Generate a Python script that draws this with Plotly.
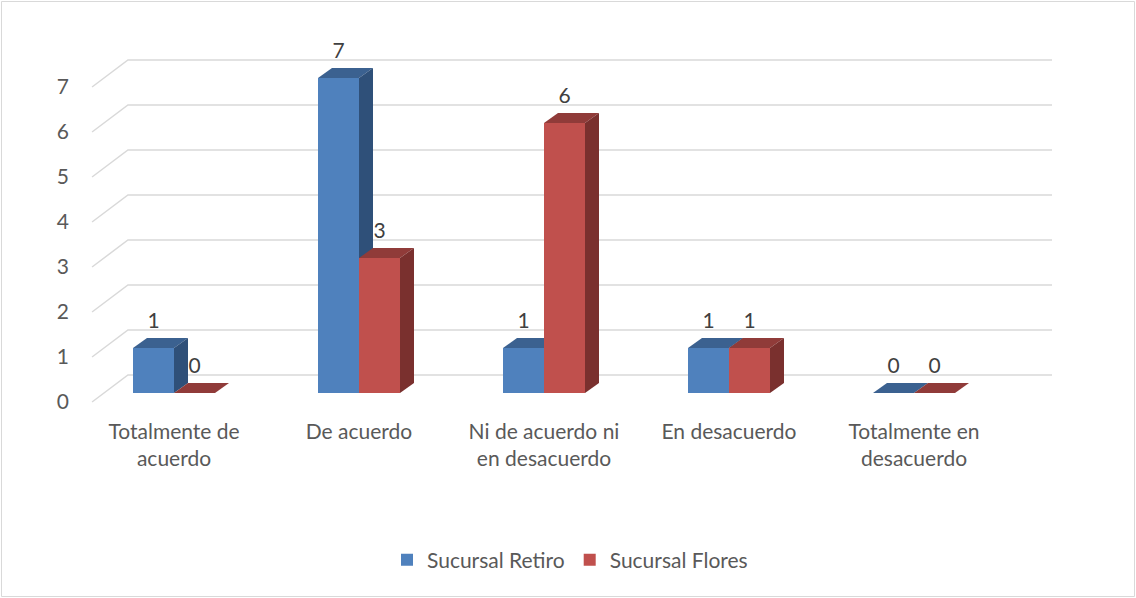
import plotly.graph_objects as go

# ---------------- data ----------------
tick_labels = ["Totalmente de<br>acuerdo", "De acuerdo", "Ni de acuerdo ni<br>en desacuerdo",
               "En desacuerdo", "Totalmente en<br>desacuerdo"]
retiro = [1, 7, 1, 1, 0]
flores = [0, 3, 6, 1, 0]
series_names = ["Sucursal Retiro", "Sucursal Flores"]
y_ticks = [0, 1, 2, 3, 4, 5, 6, 7]

# ---------------- styling / geometry ----------------
FONT = "Lato"
FS = 21
TXT = "#595959"
GRID = "#d9d9d9"
BAR_W = 41 / 185          # width of one bar in category units
DX = 14 / 185             # depth offset (x) of the 3D faces
DY = 10 / 45              # depth offset (y) of the 3D faces
LABEL_DY = 25 / 45        # data label height above front top
GRID_BACK = 0.6           # back wall offset of gridlines (front-plane units)
GX_FRONT, GX_BACK, GX_END = -0.443, -0.249, 4.746

colors = [
    dict(front="#4F81BD", top="#3B6190", side="#2F5079"),
    dict(front="#C0504D", top="#903B39", side="#7A302E"),
]

fig = go.Figure()

# gridlines (floor slant + back wall)
for t in y_ticks:
    fig.add_trace(go.Scatter(
        x=[GX_FRONT, GX_BACK, GX_END], y=[t, t + GRID_BACK, t + GRID_BACK],
        mode="lines", line=dict(color=GRID, width=1.5),
        hoverinfo="skip", showlegend=False, xaxis="x", yaxis="y"))

offsets = [-BAR_W, 0.0]
yaxes = ["y2", "y3"]
for values, name, col, off, ya in zip([retiro, flores], series_names, colors, offsets, yaxes):
    xs = list(range(len(values)))
    fig.add_trace(go.Bar(
        x=xs, y=values, width=BAR_W, offset=off, name=name,
        marker=dict(color=col["front"], line=dict(width=0)),
        xaxis="x", yaxis=ya, hoverinfo="skip"))
    for i, v in enumerate(values):
        xl = i + off
        xr = xl + BAR_W
        # top face
        fig.add_trace(go.Scatter(
            x=[xl, xl + DX, xr + DX, xr, xl], y=[v, v + DY, v + DY, v, v],
            mode="lines", fill="toself", fillcolor=col["top"],
            line=dict(width=0, color=col["top"]), hoverinfo="skip",
            showlegend=False, xaxis="x", yaxis=ya))
        # side face
        fig.add_trace(go.Scatter(
            x=[xr, xr + DX, xr + DX, xr, xr], y=[0, DY, v + DY, v, 0],
            mode="lines", fill="toself", fillcolor=col["side"],
            line=dict(width=0, color=col["side"]), hoverinfo="skip",
            showlegend=False, xaxis="x", yaxis=ya))
    # data labels
    fig.add_trace(go.Scatter(
        x=[i + off + BAR_W / 2 for i in xs], y=[v + LABEL_DY for v in values],
        mode="text", text=[str(v) for v in values], textposition="middle center",
        textfont=dict(family=FONT, size=FS, color="#404040"),
        hoverinfo="skip", showlegend=False, xaxis="x", yaxis=ya))

L, R, T, B = 80, 1080, 20, 410
xr0 = (L - 174) / 185
xr1 = (R - 174) / 185
y_front = [(402 - B) / 45, (402 - T) / 45]
y_bar = [(393 - B) / 45, (393 - T) / 45]

fig.update_layout(
    width=1136, height=598,
    margin=dict(l=L, r=1136 - R, t=T, b=598 - B, pad=0),
    paper_bgcolor="white", plot_bgcolor="white",
    font=dict(family=FONT, size=FS, color=TXT),
    barmode="overlay",
    xaxis=dict(range=[xr0, xr1], tickvals=list(range(5)), ticktext=tick_labels,
               showgrid=False, zeroline=False, showline=False, ticks="",
               ticklabelstandoff=7, tickfont=dict(family=FONT, size=FS, color=TXT)),
    yaxis=dict(range=y_front, tickvals=y_ticks, ticktext=[str(t) for t in y_ticks],
               showgrid=False, zeroline=False, showline=False, ticks="",
               ticklabelstandoff=10, tickfont=dict(family=FONT, size=FS, color=TXT)),
    yaxis2=dict(range=y_bar, overlaying="y", visible=False),
    yaxis3=dict(range=y_bar, overlaying="y", visible=False),
    legend=dict(orientation="h", x=(570 - L) / (R - L), xanchor="center",
                y=(B - 560) / (B - T), yanchor="middle",
                font=dict(family=FONT, size=FS, color=TXT), itemwidth=30),
    shapes=[dict(type="rect", xref="paper", yref="paper",
                 x0=(1.5 - L) / (R - L), x1=(1134.5 - L) / (R - L),
                 y0=(B - 596.5) / (B - T), y1=(B - 1.5) / (B - T),
                 line=dict(color=GRID, width=1), layer="below")],
    showlegend=True,
)

fig.write_html("out.html")
